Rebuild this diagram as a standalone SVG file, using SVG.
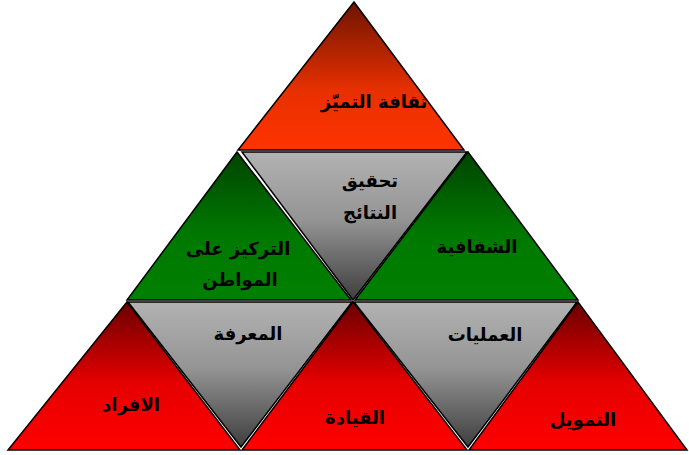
<svg xmlns="http://www.w3.org/2000/svg" width="689" height="455" viewBox="0 0 689 455">
<defs>
<linearGradient id="gOrange" x1="0" y1="0" x2="0" y2="1"><stop offset="0" stop-color="#6e1400"/><stop offset="0.6" stop-color="#e83000"/><stop offset="1" stop-color="#ff3300"/></linearGradient>
<linearGradient id="gRed" x1="0" y1="0" x2="0" y2="1"><stop offset="0" stop-color="#6a0000"/><stop offset="0.55" stop-color="#e60000"/><stop offset="1" stop-color="#ff0000"/></linearGradient>
<linearGradient id="gGreen" x1="0" y1="0" x2="0" y2="1"><stop offset="0" stop-color="#004400"/><stop offset="0.55" stop-color="#007800"/><stop offset="1" stop-color="#008000"/></linearGradient>
<linearGradient id="gGray" x1="0" y1="0" x2="0" y2="1"><stop offset="0" stop-color="#b2b2b2"/><stop offset="0.45" stop-color="#959595"/><stop offset="1" stop-color="#3e3e3e"/></linearGradient>
</defs>
<style>
.tri{stroke:#000;stroke-width:1.5;stroke-linejoin:miter}
.lbl{font-family:"DejaVu Sans",sans-serif;font-weight:bold;font-size:18px;fill:#000;text-anchor:middle;direction:rtl}
</style>
<rect width="689" height="455" fill="#fff"/>
<g id="connectors"></g>
<g id="top"><polygon class="tri" fill="url(#gOrange)" points="354,2 238,150 464,150"/><text class="lbl" x="374" y="108">ثقافة التميّز</text></g>
<g id="results"><polygon class="tri" fill="url(#gGray)" points="242,152 467,152 353,300"/><text class="lbl" x="370" y="187">تحقيق</text><text class="lbl" x="370" y="219">النتائج</text></g>
<g id="citizen"><polygon class="tri" fill="url(#gGreen)" points="237,152 127,300 351,300"/><text class="lbl" x="238" y="255">التركيز على</text><text class="lbl" x="240" y="286">المواطن</text></g>
<g id="transparency"><polygon class="tri" fill="url(#gGreen)" points="468,152 355,300 578,300"/><text class="lbl" x="477" y="253">الشفافية</text></g>
<g id="knowledge"><polygon class="tri" fill="url(#gGray)" points="128,302 352,302 241,447"/><text class="lbl" x="248" y="340">المعرفة</text></g>
<g id="operations"><polygon class="tri" fill="url(#gGray)" points="354,302 577,302 468,447"/><text class="lbl" x="485" y="341">العمليات</text></g>
<g id="people"><polygon class="tri" fill="url(#gRed)" points="127,302 8,450 240,450"/><text class="lbl" x="131" y="411">الافراد</text></g>
<g id="leadership"><polygon class="tri" fill="url(#gRed)" points="353,302 242,450 467,450"/><text class="lbl" x="355" y="424">القيادة</text></g>
<g id="finance"><polygon class="tri" fill="url(#gRed)" points="578,302 469,450 687,450"/><text class="lbl" x="583" y="426">التمويل</text></g>
</svg>
